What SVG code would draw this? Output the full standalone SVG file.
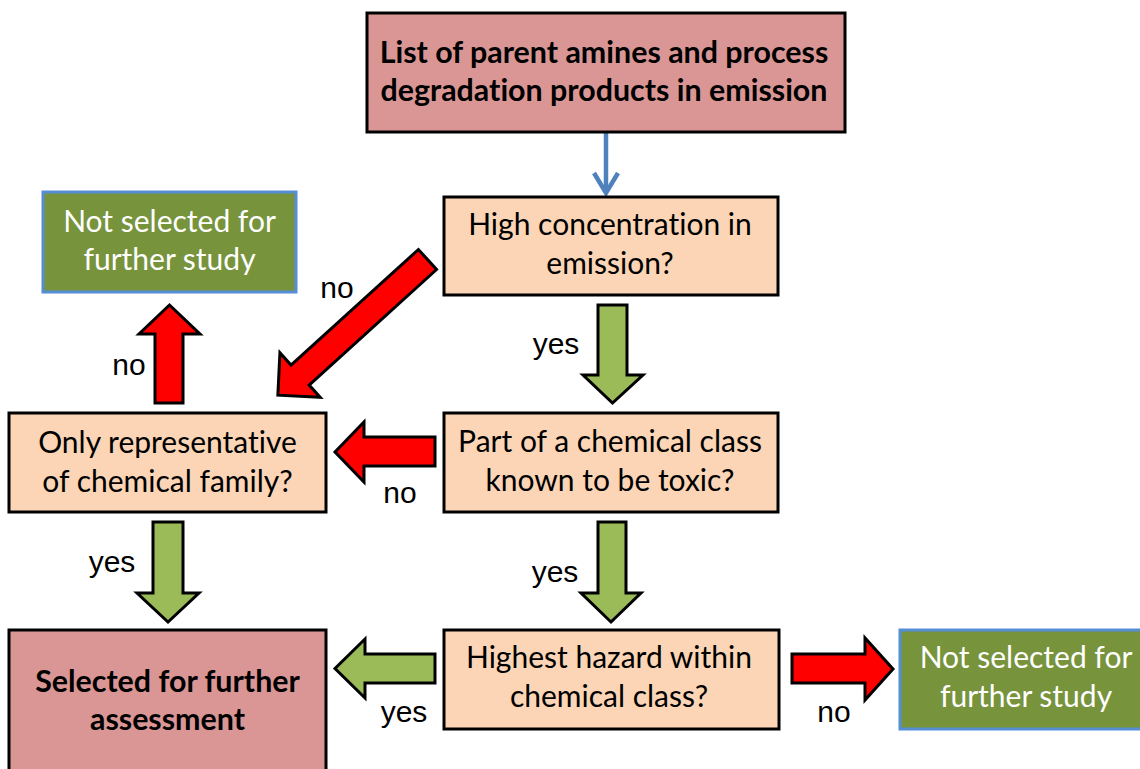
<svg xmlns="http://www.w3.org/2000/svg" width="1140" height="769" viewBox="0 0 1140 769">
  <style>
    .box { stroke: #000; stroke-width: 3; }
    .source { fill: #D99694; }
    .question { fill: #FBD5B5; }
    .reject { fill: #77933C; stroke: #558ED5; stroke-width: 3; }
    .txt { font-family: Lato, "Liberation Sans", sans-serif; font-size: 30px; text-anchor: middle; fill: #000; font-variant-ligatures: none; }
    .bold { font-weight: bold; font-size: 30.4px; }
    .white { fill: #fff; }
    .lbl { font-family: "Liberation Sans", Arial, sans-serif; font-size: 30px; text-anchor: middle; fill: #000; }
    .yes { fill: #9BBB59; stroke: #000; stroke-width: 3; stroke-linejoin: miter; }
    .no { fill: #FF0000; stroke: #000; stroke-width: 3; stroke-linejoin: miter; }
    .link { fill: none; stroke: #4F81BD; stroke-width: 4.5; }
  </style>
  <rect width="1140" height="769" fill="#fff"/>

  <!-- connectors -->
  <g id="connectors">
    <line class="link" x1="606" y1="132" x2="606" y2="192"/>
    <polyline class="link" points="594,173 606,193 618,173"/>
    <!-- high concentration -> part of class (yes) -->
    <polygon class="yes" points="598,305 627,305 627,375 643,375 612.5,403 583,375 598,375"/>
    <!-- part of class -> highest hazard (yes) -->
    <polygon class="yes" points="598,522 626,522 626,593 641,593 611,622 581,593 598,593"/>
    <!-- only representative -> selected (yes) -->
    <polygon class="yes" points="153,522 183,522 183,593 199,593 168,622 137,593 153,593"/>
    <!-- highest hazard -> selected (yes) -->
    <polygon class="yes" points="435,654 435,683 365,683 365,698 335,668.5 365,639 365,654"/>
    <!-- only representative -> not selected (no) -->
    <polygon class="no" points="155,403 183,403 183,334 200,334 169.5,305 139,334 155,334"/>
    <!-- part of class -> only representative (no) -->
    <polygon class="no" points="435,437 435,466 364,466 364,482 335,452 364,422 364,437"/>
    <!-- highest hazard -> not selected (no) -->
    <polygon class="no" points="792,654 865,654 865,638 893,669 865,700 865,683 792,683"/>
    <!-- high concentration -> only representative (no) -->
    <polygon class="no" transform="translate(427.5,259.5) rotate(137.8)" points="0,-13.5 172,-13.5 172,-30 202,0 172,30 172,13.5 0,13.5"/>

    <text class="lbl" x="337" y="298">no</text>
    <text class="lbl" x="129" y="375">no</text>
    <text class="lbl" x="400" y="503">no</text>
    <text class="lbl" x="834" y="722">no</text>
    <text class="lbl" x="556" y="354">yes</text>
    <text class="lbl" x="555" y="582">yes</text>
    <text class="lbl" x="112" y="572">yes</text>
    <text class="lbl" x="404" y="722">yes</text>
  </g>

  <g id="list">
    <rect class="box source" x="367" y="13" width="478" height="119"/>
    <text class="txt bold" x="604" y="63">List of parent amines and process</text>
    <text class="txt bold" x="604" y="101">degradation products in emission</text>
  </g>

  <g id="high-concentration">
    <rect class="box question" x="444" y="197" width="334" height="98"/>
    <text class="txt" x="610" y="235">High concentration in</text>
    <text class="txt" x="610" y="274">emission?</text>
  </g>

  <g id="chemical-class">
    <rect class="box question" x="444" y="413" width="334" height="99"/>
    <text class="txt" x="610" y="452">Part of a chemical class</text>
    <text class="txt" x="610" y="491">known to be toxic?</text>
  </g>

  <g id="highest-hazard">
    <rect class="box question" x="444" y="630" width="335" height="99"/>
    <text class="txt" x="609" y="668">Highest hazard within</text>
    <text class="txt" x="609" y="707">chemical class?</text>
  </g>

  <g id="only-representative">
    <rect class="box question" x="9" y="413" width="317" height="99"/>
    <text class="txt" x="167.5" y="453">Only representative</text>
    <text class="txt" x="167.5" y="492">of chemical family?</text>
  </g>

  <g id="selected">
    <rect class="box source" x="9" y="630" width="317" height="160"/>
    <text class="txt bold" x="167.5" y="692">Selected for further</text>
    <text class="txt bold" x="167.5" y="730">assessment</text>
  </g>

  <g id="not-selected-left">
    <rect class="reject" x="43" y="192" width="253" height="100"/>
    <text class="txt white" x="169.5" y="232">Not selected for</text>
    <text class="txt white" x="169.5" y="270">further study</text>
  </g>

  <g id="not-selected-right">
    <rect class="reject" x="900" y="630" width="253" height="99"/>
    <text class="txt white" x="1026" y="668">Not selected for</text>
    <text class="txt white" x="1026" y="707">further study</text>
  </g>
</svg>
